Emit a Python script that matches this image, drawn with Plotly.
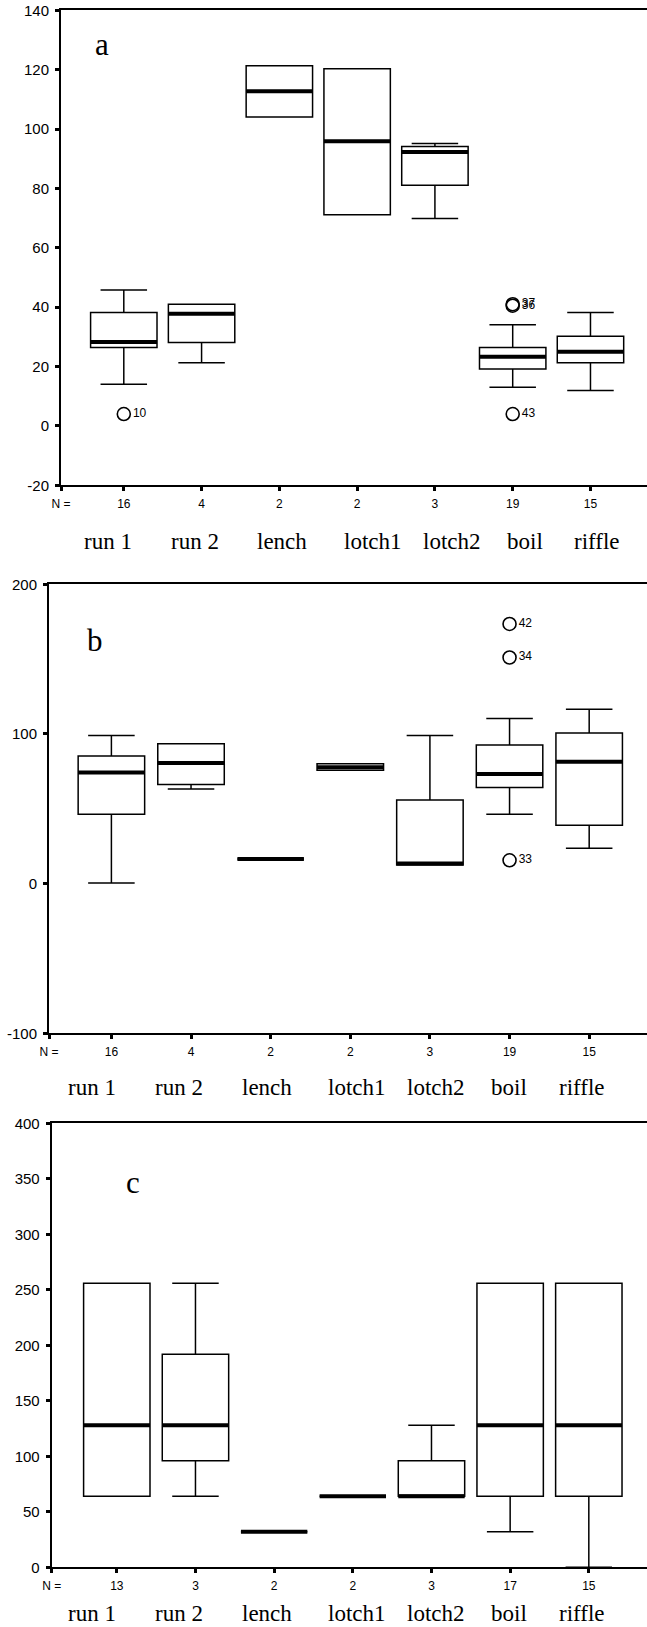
import plotly.graph_objects as go

W, H = 647, 1627

categories = ["run 1", "run 2", "lench", "lotch1", "lotch2", "boil", "riffle"]

# panel a
a_n = [16, 4, 2, 2, 3, 19, 15]
a_low = [14.0, 21.3, 104.1, 71.1, 69.9, 13.0, 11.9]
a_q1 = [26.4, 28.1, 104.1, 71.1, 81.1, 19.2, 21.3]
a_med = [28.3, 37.8, 112.7, 95.9, 92.3, 23.3, 25.0]
a_q3 = [38.2, 41.0, 121.3, 120.3, 94.1, 26.4, 30.2]
a_high = [45.8, 41.0, 121.3, 120.3, 95.1, 34.1, 38.2]
a_out_cat = ["run 1", "boil", "boil", "boil"]
a_out_y = [4.0, 41.0, 40.5, 4.0]
a_out_lbl = ["10", "37", "36", "43"]

# panel b
b_n = [16, 4, 2, 2, 3, 19, 15]
b_low = [0.4, 63.2, 16.5, 75.7, 12.5, 46.4, 23.6]
b_q1 = [46.4, 66.3, 16.5, 75.7, 12.5, 64.3, 39.0]
b_med = [74.3, 80.6, 16.5, 77.7, 13.4, 73.2, 81.4]
b_q3 = [85.3, 93.5, 16.5, 80.1, 55.8, 92.6, 100.7]
b_high = [98.9, 93.5, 16.5, 80.1, 98.9, 110.3, 116.5]
b_out_cat = ["boil", "boil", "boil"]
b_out_y = [173.5, 151.1, 15.6]
b_out_lbl = ["42", "34", "33"]

# panel c
c_n = [13, 3, 2, 2, 3, 17, 15]
c_low = [64, 64, 32, 64, 64, 32, 0]
c_q1 = [64, 96, 32, 64, 64, 64, 64]
c_med = [128, 128, 32, 64, 64, 128, 128]
c_q3 = [256, 192, 32, 64, 96, 256, 256]
c_high = [256, 256, 32, 64, 128, 256, 256]
c_out_cat = []
c_out_y = []
c_out_lbl = []

a_ticks = [-20, 0, 20, 40, 60, 80, 100, 120, 140]
b_ticks = [-100, 0, 100, 200]
c_ticks = [0, 50, 100, 150, 200, 250, 300, 350, 400]

# pixel layout of each panel
panels = [
    dict(name="a", left=61, t1=123.8, step=77.78, top=10.3, bottom=485.3, yr=[-20, 140],
         bw=0.854, letter=(102, 45), cat_x=[108, 194.7, 281.7, 373.4, 451.8, 524.6, 597.3], cat_y=542),
    dict(name="b", left=49, t1=111.4, step=79.63, top=584.3, bottom=1033.3, yr=[-100, 200],
         bw=0.835, letter=(95, 640), cat_x=[91.8, 179, 266.8, 357.3, 436.4, 509, 581.8], cat_y=1087),
    dict(name="c", left=51.7, t1=116.8, step=78.67, top=1123.3, bottom=1567.3, yr=[0, 400],
         bw=0.844, letter=(132.7, 1182), cat_x=[92.2, 179, 266.8, 357.3, 436.4, 509, 581.8], cat_y=1613),
]
data = [
    (a_n, a_low, a_q1, a_med, a_q3, a_high, a_out_cat, a_out_y, a_out_lbl, a_ticks),
    (b_n, b_low, b_q1, b_med, b_q3, b_high, b_out_cat, b_out_y, b_out_lbl, b_ticks),
    (c_n, c_low, c_q1, c_med, c_q3, c_high, c_out_cat, c_out_y, c_out_lbl, c_ticks),
]

sans = "Liberation Sans, Arial, sans-serif"
serif = "Liberation Serif, Times New Roman, serif"

fig = go.Figure()
annotations = []
pos = list(range(1, len(categories) + 1))

for k, (p, d) in enumerate(zip(panels, data)):
    n, low, q1, med, q3, high, out_cat, out_y, out_lbl, yticks = d
    sfx = "" if k == 0 else str(k + 1)
    xa, ya = "x" + sfx, "y" + sfx
    xr = [1 - (p["t1"] - p["left"]) / p["step"], 1 + (W - p["t1"]) / p["step"]]

    fig.add_trace(go.Box(
        x=pos, q1=q1, median=med, q3=q3, lowerfence=low, upperfence=high,
        width=p["bw"], whiskerwidth=0.7, fillcolor="white",
        line=dict(color="black", width=1.5), boxpoints=False,
        xaxis=xa, yaxis=ya, showlegend=False, hoverinfo="skip"))
    # thick median bars
    fig.add_trace(go.Box(
        x=pos, q1=med, median=med, q3=med, lowerfence=med, upperfence=med,
        width=p["bw"], whiskerwidth=0, fillcolor="rgba(0,0,0,0)",
        line=dict(color="black", width=4), boxpoints=False,
        xaxis=xa, yaxis=ya, showlegend=False, hoverinfo="skip"))
    if out_y:
        fig.add_trace(go.Scatter(
            x=[categories.index(c) + 1 for c in out_cat], y=out_y, text=out_lbl,
            mode="markers+text", textposition="middle right",
            textfont=dict(family=sans, size=12, color="black"),
            marker=dict(symbol="circle-open", size=13, color="black", line=dict(width=1.6)),
            xaxis=xa, yaxis=ya, showlegend=False, hoverinfo="skip", cliponaxis=False))

    fig.update_layout({
        "xaxis" + sfx: dict(
            domain=[p["left"] / W, 1], range=xr, anchor=ya, automargin=False,
            tickvals=[xr[0]] + pos, ticktext=["N ="] + [str(v) for v in n],
            ticks="outside", ticklen=4, tickwidth=3, tickcolor="black",
            showline=True, linecolor="black", linewidth=2, mirror=True,
            showgrid=False, zeroline=False, ticklabelstandoff=2,
            tickfont=dict(family=sans, size=12, color="black")),
        "yaxis" + sfx: dict(
            domain=[1 - p["bottom"] / H, 1 - p["top"] / H], range=p["yr"], anchor=xa,
            automargin=False,
            tickvals=yticks, ticktext=[str(v) for v in yticks],
            ticks="outside", ticklen=4, tickwidth=3, tickcolor="black",
            showline=True, linecolor="black", linewidth=2,
            showgrid=False, zeroline=False, ticklabelstandoff=3,
            tickfont=dict(family=sans, size=15, color="black")),
    })

    annotations.append(dict(
        text=p["name"], x=p["letter"][0] / W, y=1 - p["letter"][1] / H,
        xref="paper", yref="paper", showarrow=False, xanchor="center", yanchor="middle",
        font=dict(family=serif, size=31, color="black")))
    for cx, lbl in zip(p["cat_x"], categories):
        annotations.append(dict(
            text=lbl, x=cx / W, y=1 - p["cat_y"] / H,
            xref="paper", yref="paper", showarrow=False, xanchor="center", yanchor="middle",
            font=dict(family=serif, size=23, color="black")))

fig.update_layout(
    width=W, height=H,
    margin=dict(l=0, r=0, t=0, b=0, pad=0),
    paper_bgcolor="white", plot_bgcolor="white",
    boxmode="overlay",
    annotations=annotations,
)

fig.write_html("out.html", config={"displayModeBar": False},
               post_script="document.body.style.margin='0';")
